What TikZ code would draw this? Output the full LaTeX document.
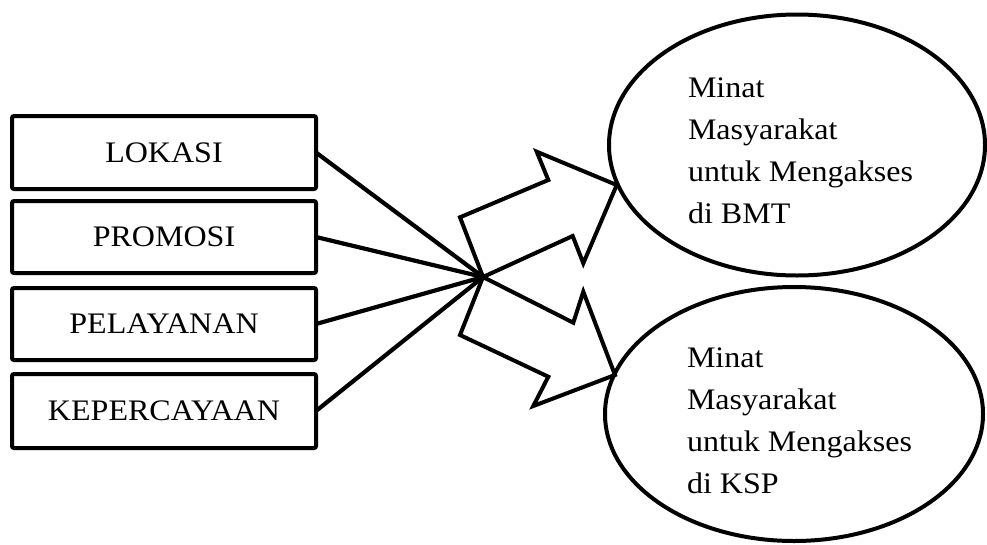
\documentclass[tikz,border=0pt]{standalone}
\usepackage{fontspec}
\setmainfont[FakeStretch=1.075]{Liberation Serif}
\usetikzlibrary{shapes.geometric}
\begin{document}
\begin{tikzpicture}[x=1pt,y=-1pt,
  every node/.style={inner sep=0pt, outer sep=0pt},
  factor/.style={draw, line width=4pt, rounded corners=2pt, minimum width=304pt,
    font=\fontsize{29.8}{42}\selectfont},
  goal/.style={draw, ellipse, line width=4pt},
  goaltext/.style={align=left, anchor=north west, font=\fontsize{29.8}{42}\selectfont},
  link/.style={line width=4.2pt, line cap=round},
  bigarrow/.style={draw, line width=4pt, line join=miter, fill=white}]
\useasboundingbox (0,0) rectangle (987,544);
% factor boxes
\node[factor, minimum height=73pt] (b1) at (164,152.5) {LOKASI};
\node[factor, minimum height=72pt] (b2) at (164,237) {PROMOSI};
\node[factor, minimum height=72pt] (b3) at (164,324) {PELAYANAN};
\node[factor, minimum height=74pt] (b4) at (164,411) {KEPERCAYAAN};
% convergence point
\coordinate (c) at (483,277);
% block arrows
\draw[bigarrow] (c) -- (460,217.3) -- (548.3,180) -- (536.7,151.7) -- (616.7,185)
  -- (583.3,263.3) -- (572.7,236) -- cycle;
\draw[bigarrow] (c) -- (573.3,322.7) -- (583.3,291.7) -- (615,375) -- (533.3,406)
  -- (548.3,376.7) -- (460,335) -- cycle;
% connectors
\draw[link] (b1.east) -- (c);
\draw[link] (b2.east) -- (c);
\draw[link] (b3.east) -- (c);
\draw[link] (b4.east) -- (c);
% goal ellipses
\node[goal, minimum width=376pt, minimum height=261pt] (e1) at (797,145) {};
\node[goal, minimum width=378pt, minimum height=254pt] (e2) at (794,414) {};
\node[goaltext] (t1) at (688,77.5) {Minat\\Masyarakat\\untuk Mengakses\\di BMT};
\node[goaltext] (t2) at (687,347.5) {Minat\\Masyarakat\\untuk Mengakses\\di KSP};
\end{tikzpicture}
\end{document}
